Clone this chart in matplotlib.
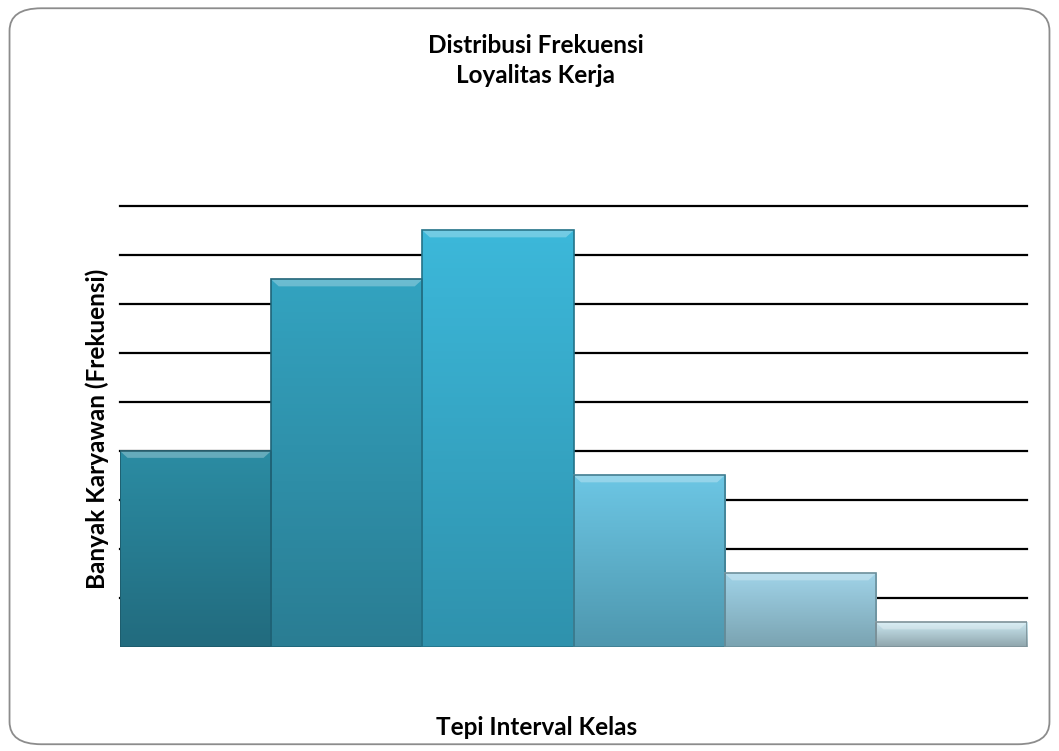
import numpy as np
import matplotlib.pyplot as plt
from matplotlib.patches import FancyBboxPatch, Polygon
from matplotlib.colors import LinearSegmentedColormap

# data
kelas = ["1", "2", "3", "4", "5", "6"]
frekuensi = [8, 15, 17, 7, 3, 1]
y_max = 18
y_step = 2

# top / bottom colour of each bar (gradient)
warna_atas = ["#2b8ca3", "#33a3c0", "#3cb8da", "#6cc6e4", "#a0d3e8", "#cbe8f1"]
warna_bawah = ["#226b7e", "#2a7d93", "#2f92ad", "#4e97ae", "#7aa3b1", "#8fa5ac"]
warna_tepi = ["#1d5a6a", "#1f6478", "#237389", "#3f7d90", "#6b8f9b", "#7d9198"]

plt.rcParams['font.family'] = ['Lato', 'DejaVu Sans']

fig = plt.figure(figsize=(10.59, 7.51), dpi=100)

# rounded chart border
border = FancyBboxPatch((0.009, 0.009), 0.982, 0.980,
                        boxstyle="round,pad=0,rounding_size=0.03",
                        transform=fig.transFigure, facecolor="none",
                        edgecolor="#8c8c8c", linewidth=1.3, zorder=-1)
fig.patches.append(border)

ax = fig.add_axes([0.1133, 0.1385, 0.8565, 0.5872])
ax.set_facecolor("none")
ax.set_xlim(-0.5, len(kelas) - 0.5)
ax.set_ylim(0, y_max)

# horizontal gridlines
for yv in np.arange(y_step, y_max + y_step, y_step):
    ax.axhline(yv, color="black", linewidth=1.6, zorder=1, clip_on=False)

bevel = 0.28
for i, f in enumerate(frekuensi):
    x0, x1 = i - 0.5, i + 0.5
    cmap = LinearSegmentedColormap.from_list("b%d" % i, [warna_bawah[i], warna_atas[i]])
    grad = np.linspace(0, 1, 100).reshape(-1, 1)
    ax.imshow(grad, cmap=cmap, aspect="auto", origin="lower",
              extent=(x0, x1, 0, f), zorder=3)
    # top bevel
    top = Polygon([(x0, f), (x1, f), (x1 - 0.05, f - bevel), (x0 + 0.05, f - bevel)],
                  closed=True, facecolor="white", alpha=0.28, edgecolor="none", zorder=4)
    ax.add_patch(top)
    ax.plot([x0, x1], [f, f], color="white", alpha=0.5, linewidth=1.2, zorder=5)
    ax.add_patch(plt.Rectangle((x0, 0), 1, f, facecolor="none",
                               edgecolor=warna_tepi[i], linewidth=1.2, zorder=5))

ax.set_xticks([])
ax.set_yticks([])
for s in ax.spines.values():
    s.set_visible(False)

fig.text(0.506, 0.940, "Distribusi Frekuensi", ha="center", va="center",
         fontsize=17.5, fontweight="bold")
fig.text(0.506, 0.899, "Loyalitas Kerja", ha="center", va="center",
         fontsize=17.5, fontweight="bold")
fig.text(0.507, 0.031, "Tepi Interval Kelas", ha="center", va="center",
         fontsize=17.5, fontweight="bold")
fig.text(0.0916, 0.429, "Banyak Karyawan (Frekuensi)", ha="center", va="center",
         rotation=90, fontsize=17.5, fontweight="bold")

fig.savefig("out.png", dpi=100)
